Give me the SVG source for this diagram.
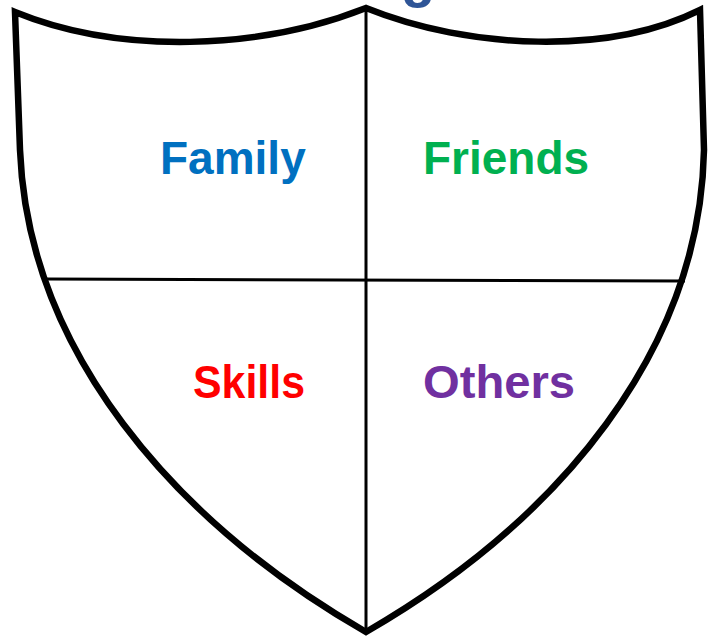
<svg xmlns="http://www.w3.org/2000/svg" width="708" height="637" viewBox="0 0 708 637">
<style>
.lbl{font-family:"Liberation Sans",Arial,sans-serif;font-weight:bold;font-size:46px}
.div{stroke:#000;stroke-width:3;fill:none}
</style>
<rect width="708" height="637" fill="#fff"/>
<text x="401" y="-4" style="font-family:'Liberation Sans',Arial,sans-serif;font-weight:bold;font-size:56px" fill="#2F5597">g</text>
<g id="shield">
<path d="M15 12 C120 55 260 50 366 8 C470 50 610 55 700 10 L704 150 C700 350 560 520 366 632 C172 520 28 350 20 150 Z" fill="none" stroke="#000" stroke-width="6.5" stroke-linejoin="miter"/>
</g>
<g id="dividers">
<line class="div" x1="366" y1="8" x2="366" y2="632"/>
<line class="div" x1="46" y1="279" x2="685" y2="281"/>
</g>
<g id="family"><text class="lbl" x="160" y="174" fill="#0070C0">Family</text></g>
<g id="friends"><text class="lbl" x="423" y="174" fill="#00B050">Friends</text></g>
<g id="skills"><text class="lbl" x="193" y="398" fill="#FF0000" textLength="112" lengthAdjust="spacingAndGlyphs">Skills</text></g>
<g id="others"><text class="lbl" x="423" y="398" fill="#7030A0" textLength="152" lengthAdjust="spacingAndGlyphs">Others</text></g>
</svg>
